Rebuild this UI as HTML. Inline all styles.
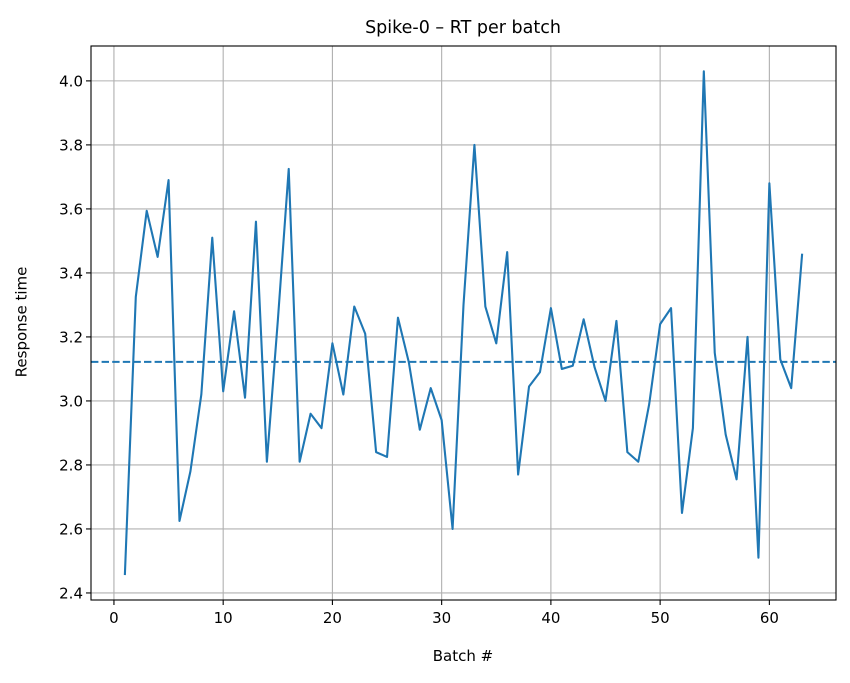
<!DOCTYPE html>
<html><head><meta charset="utf-8"><style>
body{margin:0;background:#fff}
svg text{font-family:"DejaVu Sans","Liberation Sans",sans-serif;fill:#000}
</style></head><body>
<svg id="chart" width="850" height="678" xmlns="http://www.w3.org/2000/svg">
<rect width="850" height="678" fill="#fff"/>
<g id="grid"></g><g id="series"></g><g id="axes"></g>
<text x="463" y="33" font-size="17.5" text-anchor="middle">Spike-0 – RT per batch</text>
<text x="463" y="661" font-size="15" text-anchor="middle">Batch #</text>
<text transform="translate(22,322) rotate(-90)" font-size="15" text-anchor="middle" dominant-baseline="middle">Response time</text>
</svg>
<script>
const rtValues=[2.456,3.325,3.594,3.45,3.69,2.625,2.78,3.02,3.51,3.03,3.28,3.01,3.56,2.81,3.25,3.725,2.81,2.96,2.915,3.18,3.02,3.295,3.21,2.84,2.825,3.26,3.12,2.91,3.04,2.94,2.60,3.3,3.80,3.295,3.18,3.465,2.77,3.045,3.09,3.29,3.10,3.11,3.255,3.105,3.00,3.25,2.84,2.81,2.99,3.24,3.29,2.65,2.915,4.03,3.15,2.895,2.755,3.20,2.51,3.68,3.13,3.04,3.46];
const xTicks=[0,10,20,30,40,50,60];
const yTicks=[2.4,2.6,2.8,3.0,3.2,3.4,3.6,3.8,4.0];
const L=91,R=836,T=46,B=600;
const xmin=-2.1,xmax=66.1,ymin=2.378,ymax=4.109;
const sx=v=>L+(v-xmin)/(xmax-xmin)*(R-L);
const sy=v=>B-(v-ymin)/(ymax-ymin)*(B-T);
const NS="http://www.w3.org/2000/svg";
function mk(tag,attrs,parent){const e=document.createElementNS(NS,tag);for(const k in attrs)e.setAttribute(k,attrs[k]);parent.appendChild(e);return e;}
const grid=document.getElementById('grid'),axes=document.getElementById('axes'),series=document.getElementById('series');
xTicks.forEach(t=>{const x=sx(t);
 const g=mk('line',{x1:x,x2:x,y1:T,y2:B,stroke:'#b0b0b0','stroke-width':1.1},grid);
 
 
 const tk=mk('line',{x1:x,x2:x,y1:B,y2:B+5,stroke:'#000','stroke-width':1.1},axes);
 
 
 const tx=mk('text',{x:x,y:B+23,'font-size':15,'text-anchor':'middle'},axes);tx.textContent=t;
 
 
});
yTicks.forEach(t=>{const y=sy(t);
 const g=mk('line',{x1:L,x2:R,y1:y,y2:y,stroke:'#b0b0b0','stroke-width':1.1},grid);
 
 
 const tk=mk('line',{x1:L-5,x2:L,y1:y,y2:y,stroke:'#000','stroke-width':1.1},axes);
 
 
 const tx=mk('text',{x:L-8,y:y+5.5,'font-size':15,'text-anchor':'end'},axes);tx.textContent=t.toFixed(1);
 
 
});
const mean=rtValues.reduce((a,b)=>a+b,0)/rtValues.length;
const ml=mk('line',{x1:L,x2:R,y1:sy(mean),y2:sy(mean),stroke:'#1f77b4','stroke-width':2,'stroke-dasharray':'7.4,3.2'},series);


const pts=rtValues.map((v,i)=>sx(i+1).toFixed(2)+','+sy(v).toFixed(2)).join(' ');
const pl=mk('polyline',{points:pts,fill:'none',stroke:'#1f77b4','stroke-width':2.1,'stroke-linejoin':'round'},series);


const fr=mk('rect',{x:L,y:T,width:R-L,height:B-T,fill:'none',stroke:'#000','stroke-width':1.1},axes);


</script>
</body></html>
